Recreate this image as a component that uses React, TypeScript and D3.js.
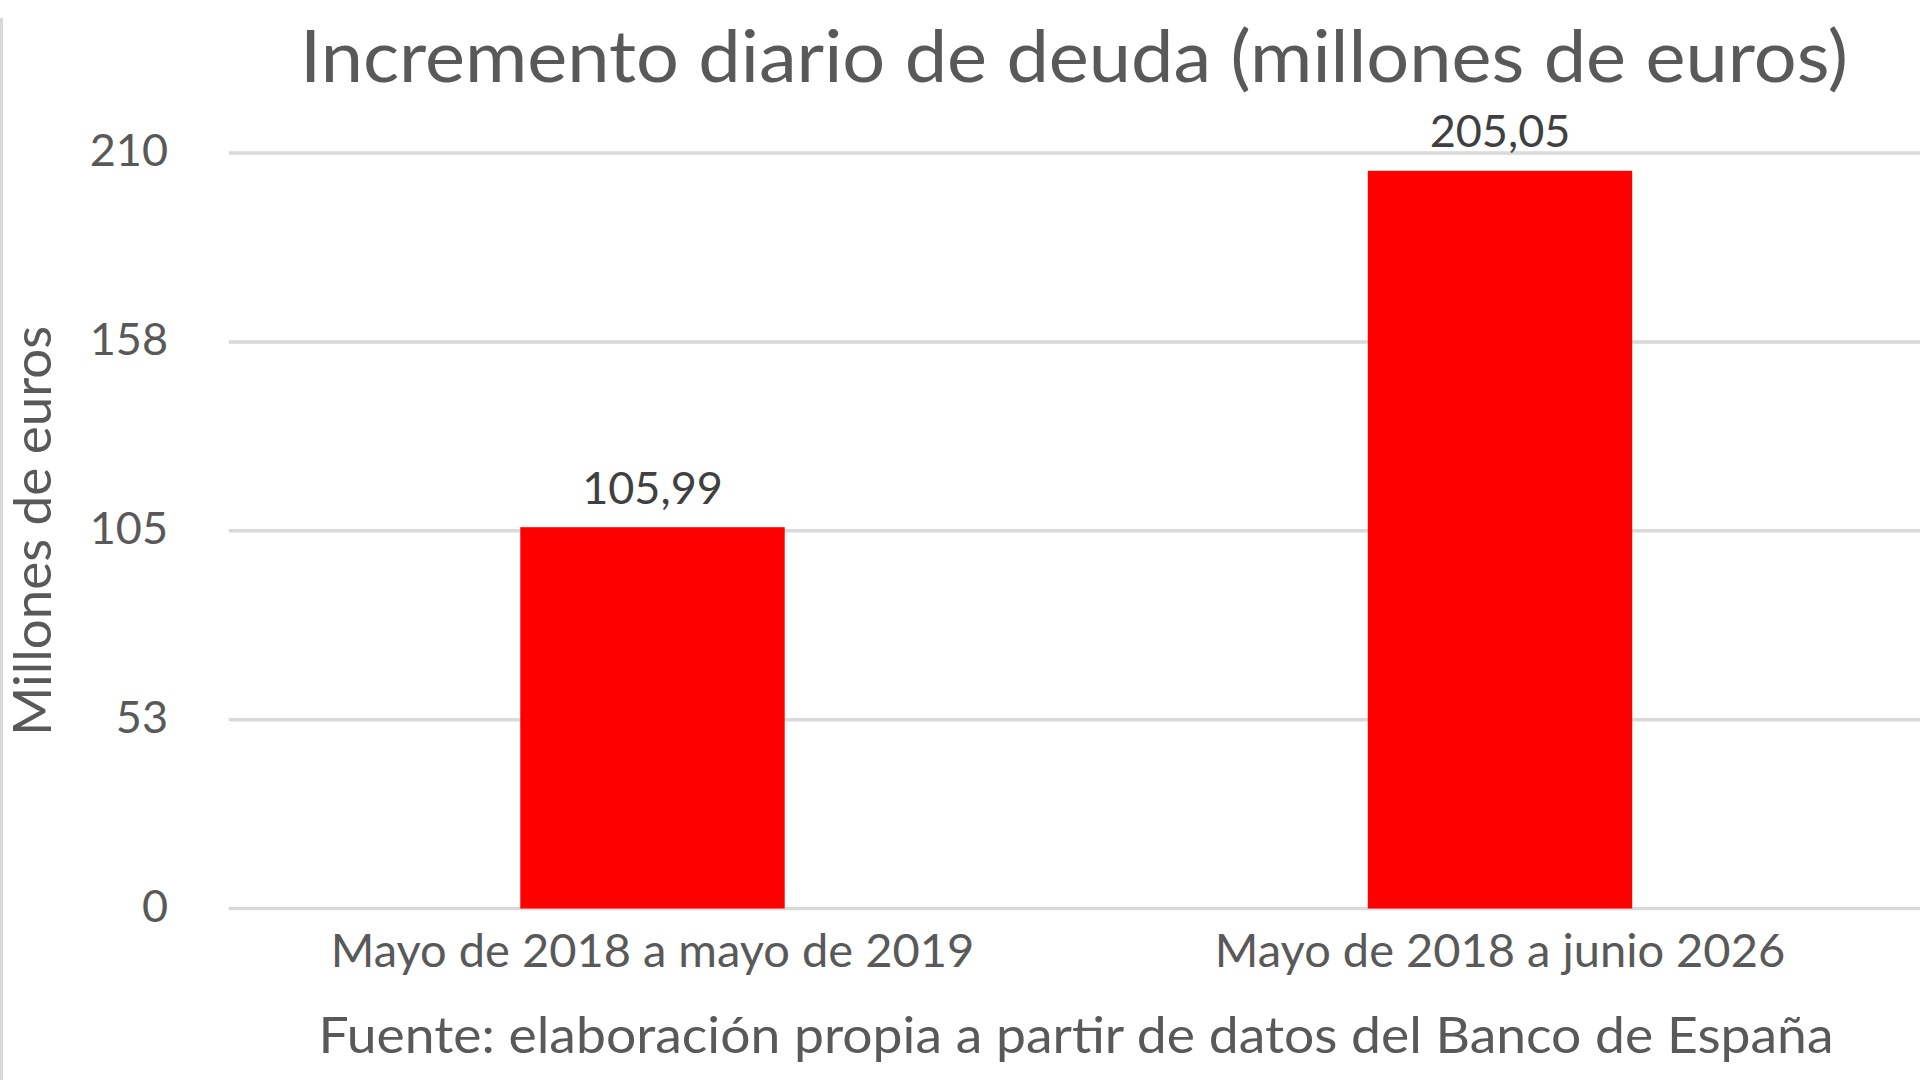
import React from "react";
import * as d3 from "d3";

const categories = ["Mayo de 2018 a mayo de 2019", "Mayo de 2018 a junio 2026"];
const values = [105.99, 205.05];
const valueLabels = ["105,99", "205,05"];
const tickValues = [0, 52.5, 105, 157.5, 210];
const tickLabels = ["0", "53", "105", "158", "210"];

const W = 1920;
const H = 1080;
const FONT = "Lato, 'Open Sans', sans-serif";
const TEXT = "#595959";

export default function App() {
  const x = d3
    .scaleBand<string>()
    .domain(categories)
    .range([228.75, 1923.75])
    .paddingInner(0.688)
    .paddingOuter(0.344);
  const y = d3.scaleLinear().domain([0, 210]).range([908.5, 153]);

  return (
    <div style={{ position: "fixed", left: 0, top: 0, width: W, height: H, background: "#fff" }}>
      <svg width={W} height={H} viewBox={`0 0 ${W} ${H}`} style={{ display: "block" }}>
        <rect x={0} y={0} width={W} height={H} fill="#fff" />
        <line x1={1.5} x2={1.5} y1={18} y2={H} stroke="#d9d9d9" strokeWidth={3} />
        <text
          x={1074}
          y={82}
          textAnchor="middle"
          fontFamily={FONT}
          fontSize={72}
          fill={TEXT}
          textLength={1548}
          lengthAdjust="spacingAndGlyphs"
        >
          Incremento diario de deuda (millones de euros)
        </text>
        {tickValues.map((t, i) => (
          <g key={t}>
            <line
              x1={x.range()[0]}
              x2={W}
              y1={y(t)}
              y2={y(t)}
              stroke="#d9d9d9"
              strokeWidth={3.5}
            />
            <text
              x={168}
              y={y(t) + 13}
              textAnchor="end"
              fontFamily={FONT}
              fontSize={45}
              fill={TEXT}
            >
              {tickLabels[i]}
            </text>
          </g>
        ))}
        <text
          transform={`translate(51, ${(y(0) + y(210)) / 2}) rotate(-90)`}
          textAnchor="middle"
          fontFamily={FONT}
          fontSize={53}
          fill={TEXT}
          textLength={410}
          lengthAdjust="spacingAndGlyphs"
        >
          Millones de euros
        </text>
        {categories.map((c, i) => {
          const bx = x(c) as number;
          const bw = x.bandwidth();
          const cx = bx + bw / 2;
          return (
            <g key={c}>
              <rect x={bx} y={y(values[i])} width={bw} height={y(0) - y(values[i])} fill="#ff0000" />
              <text
                x={cx}
                y={y(values[i]) - 23.5}
                textAnchor="middle"
                fontFamily={FONT}
                fontSize={45}
                fill="#404040"
              >
                {valueLabels[i]}
              </text>
              <text
                x={cx}
                y={967}
                textAnchor="middle"
                fontFamily={FONT}
                fontSize={47}
                fill={TEXT}
              >
                {c}
              </text>
            </g>
          );
        })}
        <text
          x={1076}
          y={1053}
          textAnchor="middle"
          fontFamily={FONT}
          fontSize={51}
          fill={TEXT}
          textLength={1515}
          lengthAdjust="spacingAndGlyphs"
        >
          Fuente: elaboración propia a partir de datos del Banco de España
        </text>
      </svg>
    </div>
  );
}
